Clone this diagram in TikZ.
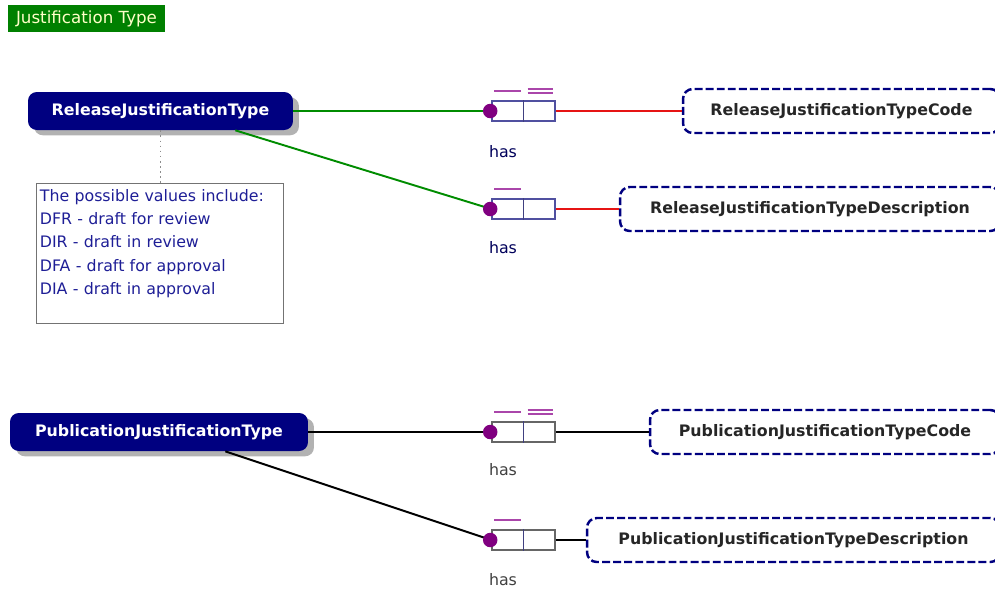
\documentclass[tikz,border=0pt]{standalone}
\usepackage{fontspec}
\setmainfont{DejaVu Sans}
\usetikzlibrary{calc,positioning,shadows}

\definecolor{navy}{RGB}{0,0,128}
\definecolor{linkgreen}{RGB}{0,140,0}
\definecolor{linkred}{RGB}{230,20,20}
\definecolor{titlegreen}{RGB}{0,128,0}
\definecolor{titletext}{RGB}{255,255,200}
\definecolor{seqpurple}{RGB}{128,0,128}
\definecolor{barpurple}{RGB}{170,70,170}
\definecolor{seqblue}{RGB}{80,80,160}
\definecolor{notetext}{RGB}{30,30,150}

\begin{document}
\begin{tikzpicture}[
  x=0.02cm, y=-0.02cm,
  font=\fontsize{9}{13}\selectfont,
  typebox/.style={rectangle, rounded corners=5pt, fill=navy, text=white, font=\fontsize{9}{13}\selectfont\bfseries,
    minimum height=0.76cm, drop shadow={shadow xshift=3.4pt, shadow yshift=-3pt, fill=black!30, opacity=1}},
  elembox/.style={rectangle, rounded corners=5.5pt, draw=navy, line width=1.4pt, dash pattern=on 4.5pt off 1.8pt,
    fill=white, text=black!85, font=\fontsize{9}{13}\selectfont\bfseries, minimum height=0.88cm},
  seqbox/.style={rectangle, draw=#1, line width=0.9pt, fill=white, minimum width=1.26cm, minimum height=0.4cm, inner sep=0pt},
  seqdot/.style={circle, fill=seqpurple, inner sep=0pt, minimum size=0.29cm},
  bar/.style={draw=barpurple, line width=1.2pt},
  link/.style={line width=1.1pt}
]
\useasboundingbox (0,0) rectangle (995,589);

% title
\node[fill=titlegreen, text=titletext, minimum width=3.14cm, minimum height=0.54cm, inner sep=0pt,
  font=\fontsize{9.5}{13}\selectfont] (title) at (86.5,18.5) {Justification Type};

% release part
\node[typebox, minimum width=5.3cm] (rel) at (160.5,111) {ReleaseJustificationType};
\node[draw=black!55, line width=0.8pt, anchor=north west, minimum width=4.94cm, minimum height=2.8cm] (note) at (36,183) {};
\node[anchor=north west, text width=4.8cm, align=left, inner xsep=2pt, inner ysep=3.5pt, text=notetext,
  font=\fontsize{9}{13.2}\selectfont] (notetxt) at (note.north west)
  {The possible values include:\\DFR - draft for review\\DIR - draft in review\\DFA - draft for approval\\DIA - draft in approval};
\draw[black!45, dotted, line width=0.9pt] (rel.south) -- (rel.south |- note.north);

\node[seqbox=seqblue] (s1) at (523.5,111) {};
\node[seqbox=seqblue] (s2) at (523.5,209) {};
\node[elembox, minimum width=6.34cm] (code1) at (841.5,111) {ReleaseJustificationTypeCode};
\node[elembox, minimum width=7.6cm] (desc1) at (810,209) {ReleaseJustificationTypeDescription};

\draw[link, linkred] (s1) -- (code1);
\draw[link, linkred] (s2) -- (desc1);
\draw[link, linkgreen] (rel) -- (s1.west);
\draw[link, linkgreen] ([xshift=-1.16cm]rel.south east) -- (s2.west);

% publication part
\node[typebox, minimum width=5.96cm] (pub) at (159,432) {PublicationJustificationType};
\node[seqbox=black!60] (s3) at (523.5,432) {};
\node[seqbox=black!60] (s4) at (523.5,540) {};
\node[elembox, minimum width=7cm] (code2) at (825,432) {PublicationJustificationTypeCode};
\node[elembox, minimum width=8.26cm] (desc2) at (793.5,540) {PublicationJustificationTypeDescription};

\draw[link, black] (s3) -- (code2);
\draw[link, black] (s4) -- (desc2);
\draw[link, black] (pub) -- (s3.west);
\draw[link, black] ([xshift=-1.66cm]pub.south east) -- (s4.west);

% sequence details
\foreach \s in {s1,s2,s3,s4} {
  \draw[seqblue!80!black, line width=0.9pt] (\s.north) -- (\s.south);
  \node[seqdot] (dot-\s) at ($(\s.west)+(-1,0)$) {};
  \draw[bar] ($(\s.north west)+(3,-9)$) -- ($(\s.north)+(-3,-9)$);
}
\foreach \s in {s1,s3} {
  \draw[bar] ($(\s.north)+(4,-7)$) -- ($(\s.north east)+(-3,-7)$);
  \draw[bar] ($(\s.north)+(4,-11)$) -- ($(\s.north east)+(-3,-11)$);
}

\node[text=navy!70!black] (h1) at (503,152) {has};
\node[text=navy!70!black] (h2) at (503,248) {has};
\node[text=black!75] (h3) at (503,470) {has};
\node[text=black!75] (h4) at (503,580) {has};
\end{tikzpicture}
\end{document}
